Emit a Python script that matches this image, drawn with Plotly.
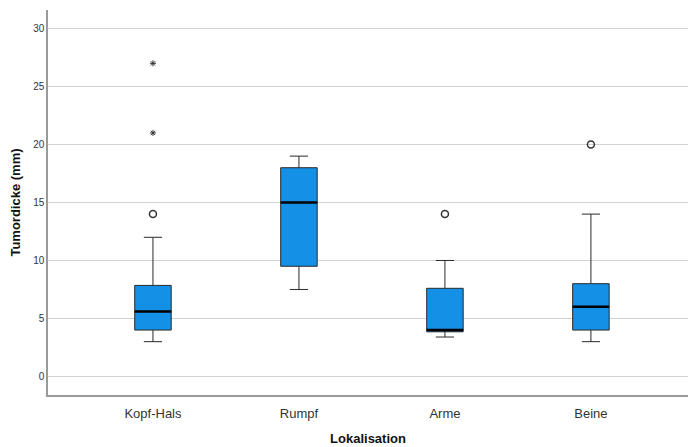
import plotly.graph_objects as go

# Tumour thickness (mm) by body site: box statistics
categories = ["Kopf-Hals", "Rumpf", "Arme", "Beine"]
q1 = [4.0, 9.5, 3.85, 4.0]
median = [5.6, 15.0, 4.0, 6.0]
q3 = [7.85, 18.0, 7.6, 8.0]
lower_whisker = [3.0, 7.5, 3.4, 3.0]
upper_whisker = [12.0, 19.0, 10.0, 14.0]

# Mild outliers (circles) and extreme outliers (stars): (category index, value)
mild_x = [0, 2, 3]
mild_y = [14.0, 14.0, 20.0]
extreme_x = [0, 0]
extreme_y = [27.0, 21.0]

y_ticks = [0, 5, 10, 15, 20, 25, 30]

box_fill = "#1490e6"
box_line = "#2a2a2a"
box_width = 0.25
font = "Liberation Sans, Arial, sans-serif"

xs = list(range(len(categories)))

fig = go.Figure()
fig.add_trace(go.Box(
    x=xs,
    q1=q1, median=median, q3=q3,
    lowerfence=lower_whisker, upperfence=upper_whisker,
    width=box_width,
    whiskerwidth=0.5,
    fillcolor=box_fill,
    line=dict(color=box_line, width=1),
    boxpoints=False,
    hoverinfo="skip",
    showlegend=False,
))

# Thick median bars drawn over the boxes
med_x, med_y = [], []
for i, m in zip(xs, median):
    med_x += [i - box_width / 2, i + box_width / 2, None]
    med_y += [m, m, None]
fig.add_trace(go.Scatter(
    x=med_x, y=med_y, mode="lines",
    line=dict(color="#000000", width=2.5),
    hoverinfo="skip", showlegend=False,
))

fig.add_trace(go.Scatter(
    x=mild_x, y=mild_y, mode="markers",
    marker=dict(symbol="circle-open", size=7, color="#333333",
                line=dict(width=1.5, color="#333333")),
    showlegend=False,
))
fig.add_trace(go.Scatter(
    x=extreme_x, y=extreme_y, mode="markers",
    marker=dict(symbol="asterisk-open", size=5, color="#333333",
                line=dict(width=1, color="#333333")),
    showlegend=False,
))

fig.update_layout(
    width=691, height=447,
    margin=dict(l=48, r=3, t=10, b=52),
    paper_bgcolor="white",
    plot_bgcolor="white",
    font=dict(family=font, color="#222222"),
    xaxis=dict(
        range=[-0.719, 3.665],
        tickmode="array", tickvals=xs, ticktext=categories,
        tickfont=dict(size=13, color="#333333"),
        ticklabelstandoff=6,
        showgrid=False, zeroline=False,
        showline=True, linecolor="#9a9a9a", linewidth=1.5,
        ticks="",
        title=dict(text="<b>Lokalisation</b>", font=dict(size=13, color="#111111"),
                   standoff=14),
    ),
    yaxis=dict(
        range=[-1.6, 31.6],
        tickmode="array", tickvals=y_ticks,
        tickfont=dict(size=10, color="#333333"),
        showgrid=True, gridcolor="#d2d2d2", gridwidth=1.2,
        zeroline=False,
        showline=True, linecolor="#9a9a9a", linewidth=1.5,
        ticks="",
        title=dict(text="<b>Tumordicke (mm)</b>", font=dict(size=13, color="#111111"),
                   standoff=10),
    ),
)

fig.write_html("out.html")
